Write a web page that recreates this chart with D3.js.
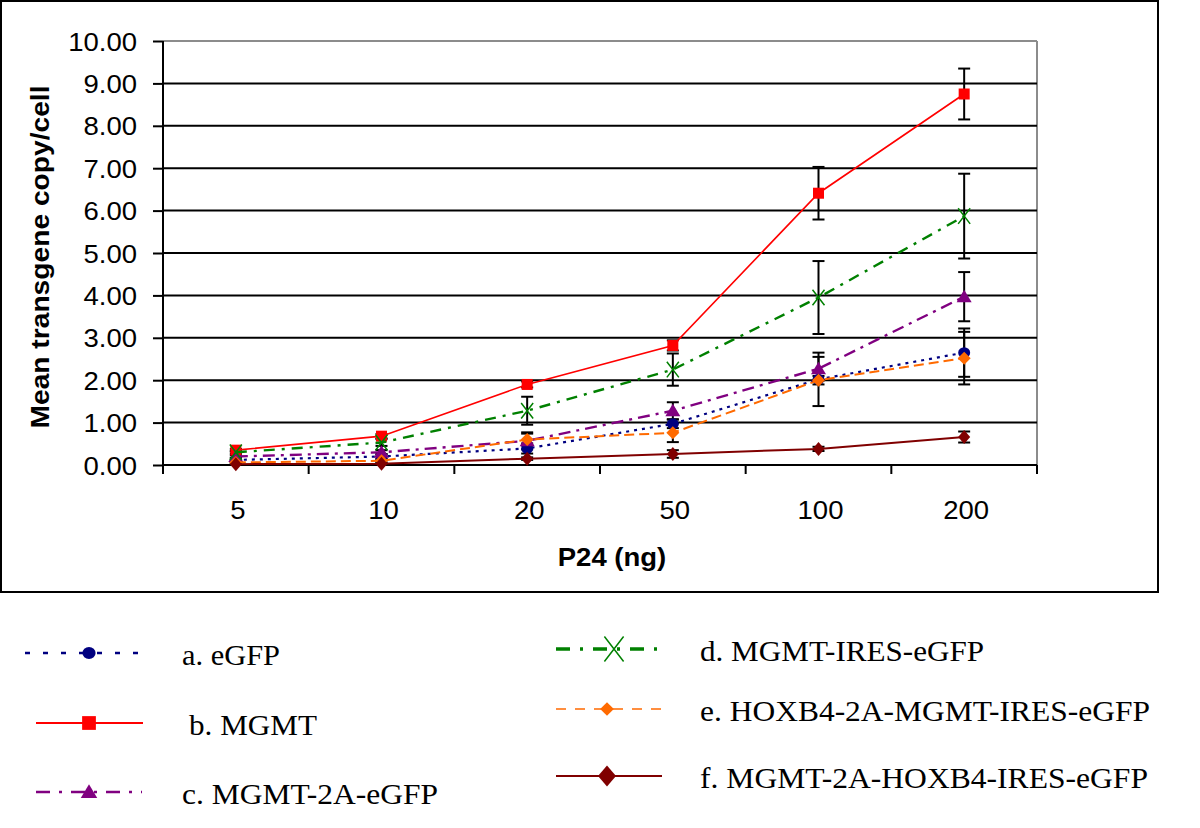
<!DOCTYPE html>
<html><head><meta charset="utf-8">
<script src="https://cdn.jsdelivr.net/npm/d3@7"></script>
<style>body{margin:0;background:#fff}svg{display:block}</style>
</head><body>
<script>
const categories = ["5","10","20","50","100","200"];
const yTicks = [0,1,2,3,4,5,6,7,8,9,10];
const seriesNames = ["a. eGFP","b. MGMT","c. MGMT-2A-eGFP","d. MGMT-IRES-eGFP","e. HOXB4-2A-MGMT-IRES-eGFP","f. MGMT-2A-HOXB4-IRES-eGFP"];
const eGFP      = [0.12, 0.20, 0.39, 0.97, 2.02, 2.65];
const eGFPErr   = [0.04, 0.06, 0.12, 0.10, 0.63, 0.57];
const MGMT      = [0.35, 0.68, 1.90, 2.82, 6.41, 8.75];
const MGMTErr   = [0.03, 0.05, 0.07, 0.12, 0.62, 0.60];
const MGMT2A    = [0.20, 0.30, 0.57, 1.28, 2.27, 3.97];
const MGMT2AErr = [0.03, 0.05, 0.20, 0.20, 0.28, 0.58];
const IRES      = [0.30, 0.53, 1.28, 2.25, 3.95, 5.87];
const IRESErr   = [0.03, 0.08, 0.33, 0.38, 0.86, 1.00];
const HOX       = [0.06, 0.10, 0.60, 0.76, 2.00, 2.52];
const HOXErr    = [0.02, 0.04, 0.14, 0.22, 0.10, 0.62];
const HOXF      = [0.02, 0.03, 0.15, 0.26, 0.38, 0.66];
const HOXFErr   = [0.01, 0.02, 0.03, 0.09, 0.05, 0.13];

const series = [
  {name: seriesNames[0], values: eGFP, err: eGFPErr, color:"#000080", dash:"3,5", width:2.2, marker:"circle", ldash:"5,13", lwidth:2.4},
  {name: seriesNames[1], values: MGMT, err: MGMTErr, color:"#ff0000", dash:null, width:1.6, marker:"square", ldash:null, lwidth:2},
  {name: seriesNames[2], values: MGMT2A, err: MGMT2AErr, color:"#800080", dash:"12,6,3,6", width:2.4, marker:"triangle", ldash:"14,9,3,9", lwidth:2.6},
  {name: seriesNames[3], values: IRES, err: IRESErr, color:"#008000", dash:"11,7,3,7", width:2.4, marker:"x", ldash:"14,10,3,10", lwidth:3.5},
  {name: seriesNames[4], values: HOX, err: HOXErr, color:"#ff6a00", dash:"10,5", width:2, marker:"diamond", ldash:"10,9", lwidth:1.6},
  {name: seriesNames[5], values: HOXF, err: HOXFErr, color:"#800000", dash:null, width:2, marker:"diamondTall", ldash:null, lwidth:2.2}
];

const W=1200,H=828;
const svg=d3.select("body").append("svg").attr("width",W).attr("height",H);
const SX=1.1;

// outer frame
svg.append("rect").attr("x",1).attr("y",1).attr("width",1157).attr("height",591)
  .attr("fill","none").attr("stroke","#000").attr("stroke-width",2);

const L=163,R=1037,T=41,B=465;
const x=d3.scaleBand().domain(categories).range([L,R]).padding(0);
const y=d3.scaleLinear().domain([0,10]).range([B,T]);
const cx=c=>x(c)+x.bandwidth()/2;

function stext(g,tx,ty,str,opts){
  return g.append("text").attr("transform",`translate(${tx},${ty}) scale(${SX},1)`)
   .attr("font-family",opts.family||"'Liberation Sans', Arial, sans-serif")
   .attr("font-size",opts.size).attr("font-weight",opts.weight||"normal")
   .attr("text-anchor",opts.anchor||"start").attr("dominant-baseline","central").attr("fill","#000").text(str);
}

// plot border (gray) top and right
svg.append("line").attr("x1",L).attr("x2",R).attr("y1",T).attr("y2",T).attr("stroke","#8c8c8c").attr("stroke-width",2);
svg.append("line").attr("x1",R).attr("x2",R).attr("y1",T).attr("y2",B).attr("stroke","#8c8c8c").attr("stroke-width",2);

// gridlines
svg.append("g").selectAll("line").data(yTicks.filter(v=>v>0&&v<10)).join("line")
  .attr("x1",L).attr("x2",R).attr("y1",d=>y(d)).attr("y2",d=>y(d)).attr("stroke","#000").attr("stroke-width",2);

// y axis
const yAxis=d3.axisLeft(y).tickValues(yTicks).tickSize(10).tickFormat("");
const gy=svg.append("g").attr("transform",`translate(${L},0)`).call(yAxis);
gy.select(".domain").attr("stroke","#000").attr("stroke-width",2).attr("d",`M0,${T}V${B}`);
gy.selectAll(".tick line").attr("stroke","#000").attr("stroke-width",2);
const gyl=svg.append("g");
yTicks.forEach(v=>stext(gyl,137,y(v)+1,d3.format(".2f")(v),{size:25,anchor:"end"}));

// x axis
svg.append("line").attr("x1",L).attr("x2",R).attr("y1",B).attr("y2",B).attr("stroke","#000").attr("stroke-width",2);
const bounds=categories.map(c=>x(c)).concat([R]);
svg.append("g").selectAll("line").data(bounds).join("line")
  .attr("x1",d=>d).attr("x2",d=>d).attr("y1",B).attr("y2",B+9).attr("stroke","#000").attr("stroke-width",2);
const gxl=svg.append("g");
categories.forEach(c=>stext(gxl,cx(c)+2,510,c,{size:25,anchor:"middle"}));

// axis titles
stext(svg,612,557,"P24 (ng)",{size:25,weight:"bold",anchor:"middle"});
svg.append("text").attr("transform",`translate(40,257) rotate(-90)`)
  .attr("font-family","'Liberation Sans', Arial, sans-serif").attr("font-size",26).attr("font-weight","bold")
  .attr("text-anchor","middle").attr("dominant-baseline","central").attr("textLength",343).attr("lengthAdjust","spacingAndGlyphs")
  .text("Mean transgene copy/cell");

// marker drawing
function marker(g,type,px,py,color,scale){
  const s=scale||1;
  if(type==="circle"){
    g.append("ellipse").attr("cx",px).attr("cy",py).attr("rx",6*s).attr("ry",5.5*s).attr("fill",color);
  }else if(type==="square"){
    g.append("rect").attr("x",px-5.5*s).attr("y",py-5.5*s).attr("width",11*s).attr("height",11*s).attr("fill",color);
  }else if(type==="triangle"){
    g.append("path").attr("d",`M${px},${py-7*s}L${px+7.5*s},${py+5.5*s}L${px-7.5*s},${py+5.5*s}Z`).attr("fill",color);
  }else if(type==="x"){
    g.append("path").attr("d",`M${px-6*s},${py-6*s*1.3}L${px+6*s},${py+6*s*1.3}M${px+6*s},${py-6*s*1.3}L${px-6*s},${py+6*s*1.3}`)
      .attr("stroke",color).attr("stroke-width",1.5).attr("fill","none");
  }else if(type==="diamond"){
    g.append("path").attr("d",`M${px},${py-6.5*s}L${px+6.5*s},${py}L${px},${py+6.5*s}L${px-6.5*s},${py}Z`).attr("fill",color);
  }else if(type==="diamondTall"){
    g.append("path").attr("d",`M${px},${py-7*s}L${px+6*s},${py}L${px},${py+7*s}L${px-6*s},${py}Z`).attr("fill",color);
  }
}

// error bars
const ge=svg.append("g");
series.forEach(s=>{
  s.values.forEach((v,i)=>{
    const px=cx(categories[i]), e=s.err[i];
    const y1=y(v+e), y2=y(Math.max(0,v-e));
    ge.append("line").attr("x1",px).attr("x2",px).attr("y1",y1).attr("y2",y2).attr("stroke","#000").attr("stroke-width",2);
    [y1,y2].forEach(yy=>ge.append("line").attr("x1",px-6).attr("x2",px+6).attr("y1",yy).attr("y2",yy).attr("stroke","#000").attr("stroke-width",2));
  });
});

// lines and markers
const line=d3.line().x((d,i)=>cx(categories[i])).y(d=>y(d));
series.forEach(s=>{
  const g=svg.append("g");
  g.append("path").attr("d",line(s.values)).attr("fill","none").attr("stroke",s.color)
    .attr("stroke-width",s.width).attr("stroke-dasharray",s.dash);
  s.values.forEach((v,i)=>marker(g,s.marker,cx(categories[i]),y(v),s.color,1));
});

// legend
const legendPos=[
  {x1:25,x2:149,mx:89,y:653,tx:182,tw:98},
  {x1:36,x2:143,mx:89,y:723,tx:189,tw:128},
  {x1:36,x2:142,mx:89,y:792,tx:182,tw:256},
  {x1:556,x2:662,mx:614,y:649,tx:700,tw:284},
  {x1:556,x2:662,mx:607,y:709,tx:700,tw:450},
  {x1:556,x2:662,mx:607,y:776,tx:700,tw:448}
];
const legendScale=[1.1,1.25,1.1,1.6,1.05,1.5];
const gl=svg.append("g");
series.forEach((s,i)=>{
  const p=legendPos[i];
  gl.append("line").attr("x1",p.x1).attr("x2",p.x2).attr("y1",p.y).attr("y2",p.y).attr("stroke",s.color)
    .attr("stroke-width",s.lwidth).attr("stroke-dasharray",s.ldash);
  marker(gl,s.marker,p.mx,p.y,s.color,legendScale[i]);
  gl.append("text").attr("x",p.tx).attr("y",p.y+2).attr("font-family","'Liberation Serif', 'Times New Roman', serif")
    .attr("font-size",29).attr("dominant-baseline","central").attr("textLength",p.tw).attr("lengthAdjust","spacingAndGlyphs")
    .attr("fill","#000").text(s.name);
});
</script>
</body></html>
